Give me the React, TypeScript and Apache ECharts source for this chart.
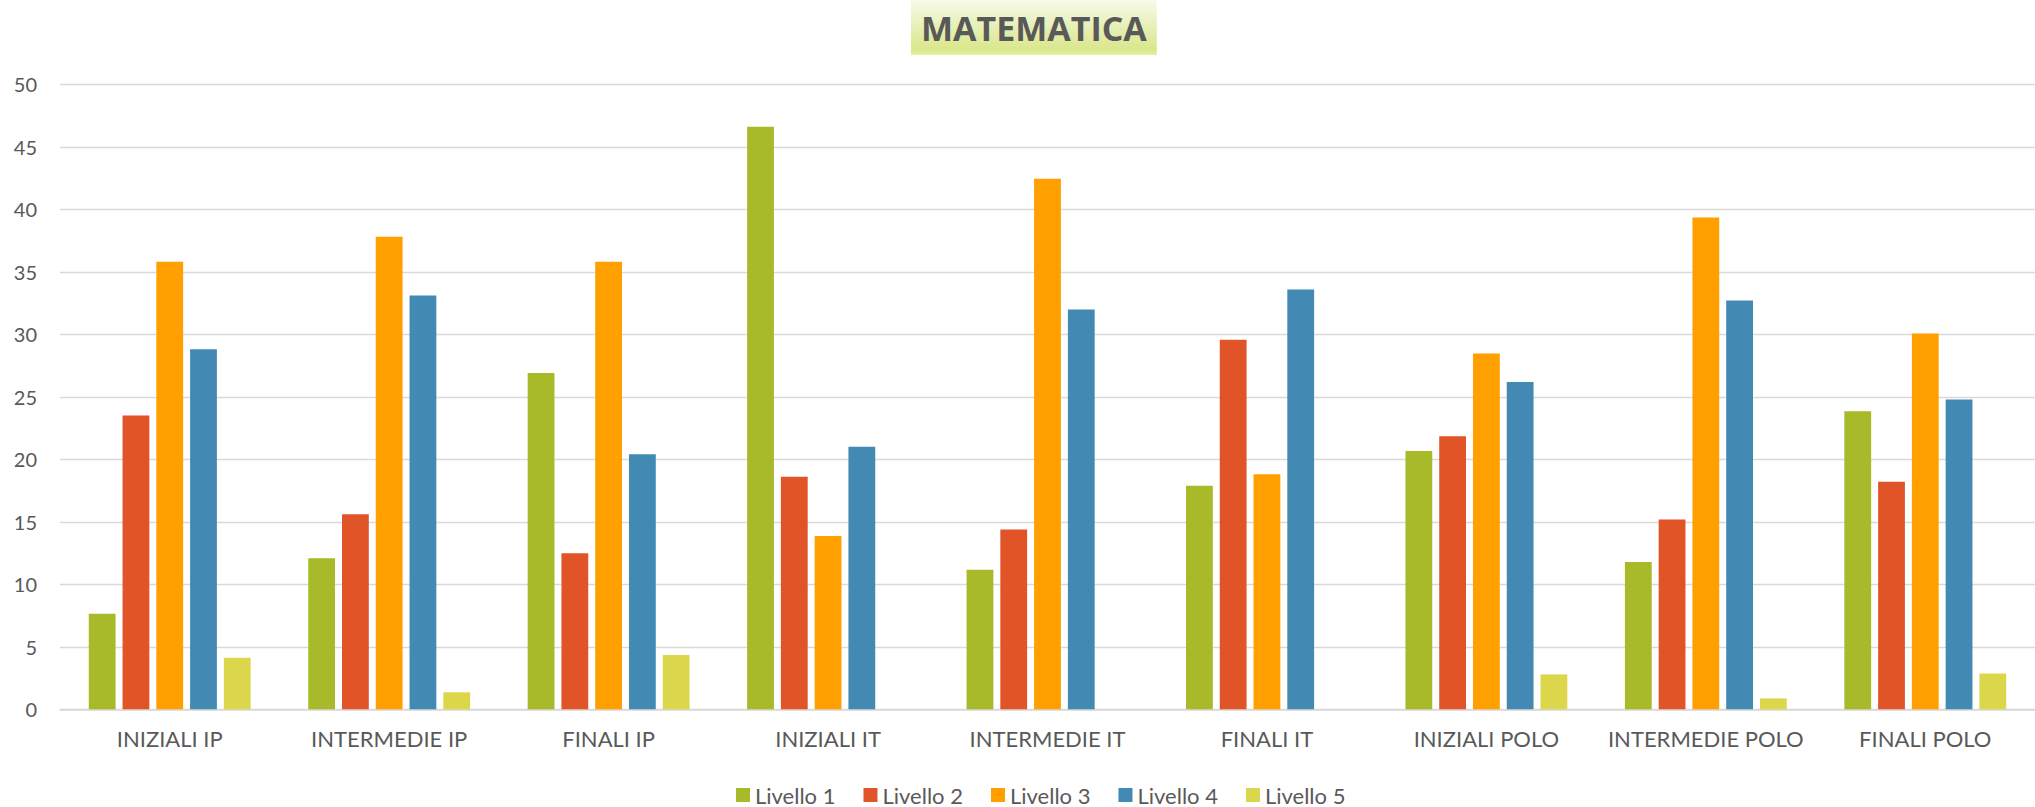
import React, { useEffect, useRef } from "react";
import * as echarts from "echarts";

const categories = [
  "INIZIALI IP",
  "INTERMEDIE IP",
  "FINALI IP",
  "INIZIALI IT",
  "INTERMEDIE IT",
  "FINALI IT",
  "INIZIALI POLO",
  "INTERMEDIE POLO",
  "FINALI POLO",
];

const seriesNames = ["Livello 1", "Livello 2", "Livello 3", "Livello 4", "Livello 5"];

const livello1 = [7.65, 12.08, 26.9, 46.6, 11.17, 17.88, 20.66, 11.78, 23.85];
const livello2 = [23.5, 15.6, 12.48, 18.6, 14.39, 29.57, 21.85, 15.18, 18.2];
const livello3 = [35.8, 37.8, 35.8, 13.86, 42.45, 18.8, 28.47, 39.35, 30.06];
const livello4 = [28.8, 33.1, 20.4, 21.0, 31.98, 33.58, 26.18, 32.7, 24.78];
const livello5 = [4.13, 1.36, 4.34, 0, 0, 0, 2.79, 0.87, 2.87];

const colors = ["#A8B92A", "#E05427", "#FF9F00", "#428AB3", "#DBD64A"];

const title = "MATEMATICA";

export default function App() {
  const ref = useRef<HTMLDivElement>(null);

  useEffect(() => {
    if (!ref.current) return;
    const chart = echarts.init(ref.current, undefined, { renderer: "svg" });
    const allData = [livello1, livello2, livello3, livello4, livello5];
    const labelFont = "Lato, 'Open Sans', sans-serif";
    chart.setOption({
      animation: false,
      backgroundColor: "#ffffff",
      color: colors,
      title: {
        text: title,
        left: 911,
        top: 0,
        padding: [10, 10, 10, 10],
        backgroundColor: new echarts.graphic.LinearGradient(0, 0, 0, 1, [
          { offset: 0, color: "#f8fbea" },
          { offset: 0.5, color: "#e6efb4" },
          { offset: 0.9, color: "#dbe78c" },
          { offset: 1, color: "#e4eea6" },
        ]),
        textStyle: {
          fontFamily: "'Open Sans', sans-serif",
          fontWeight: "bold",
          fontSize: 34,
          lineHeight: 35,
          color: "#595959",
        },
      },
      legend: {
        data: seriesNames,
        left: 731,
        top: 779,
        itemWidth: 14,
        itemHeight: 14,
        itemGap: 28,
        icon: "rect",
        textStyle: {
          fontFamily: labelFont,
          fontSize: 22,
          lineHeight: 20,
          color: "#595959",
        },
      },
      grid: {
        left: 60,
        top: 84.3,
        width: 1978,
        height: 625,
        containLabel: false,
      },
      xAxis: {
        type: "category",
        data: categories,
        axisLine: { show: true, lineStyle: { color: "#d9d9d9", width: 1.5 } },
        axisTick: { show: false },
        axisLabel: {
          fontFamily: labelFont,
          fontSize: 22,
          color: "#595959",
          margin: 18,
          interval: 0,
        },
      },
      yAxis: {
        type: "value",
        min: 0,
        max: 50,
        interval: 5,
        axisLine: { show: false },
        axisTick: { show: false },
        splitLine: { lineStyle: { color: "#d9d9d9", width: 1.3 } },
        axisLabel: {
          fontFamily: labelFont,
          fontSize: 20,
          color: "#595959",
          margin: 23,
        },
      },
      series: seriesNames.map((name, i) => ({
        name,
        type: "bar",
        data: allData[i],
        barWidth: 26.8,
        barGap: "26%",
        itemStyle: { color: colors[i] },
      })),
    });
    return () => chart.dispose();
  }, []);

  return (
    <div
      ref={ref}
      style={{ position: "absolute", left: 0, top: 0, width: 2035, height: 807 }}
    />
  );
}
